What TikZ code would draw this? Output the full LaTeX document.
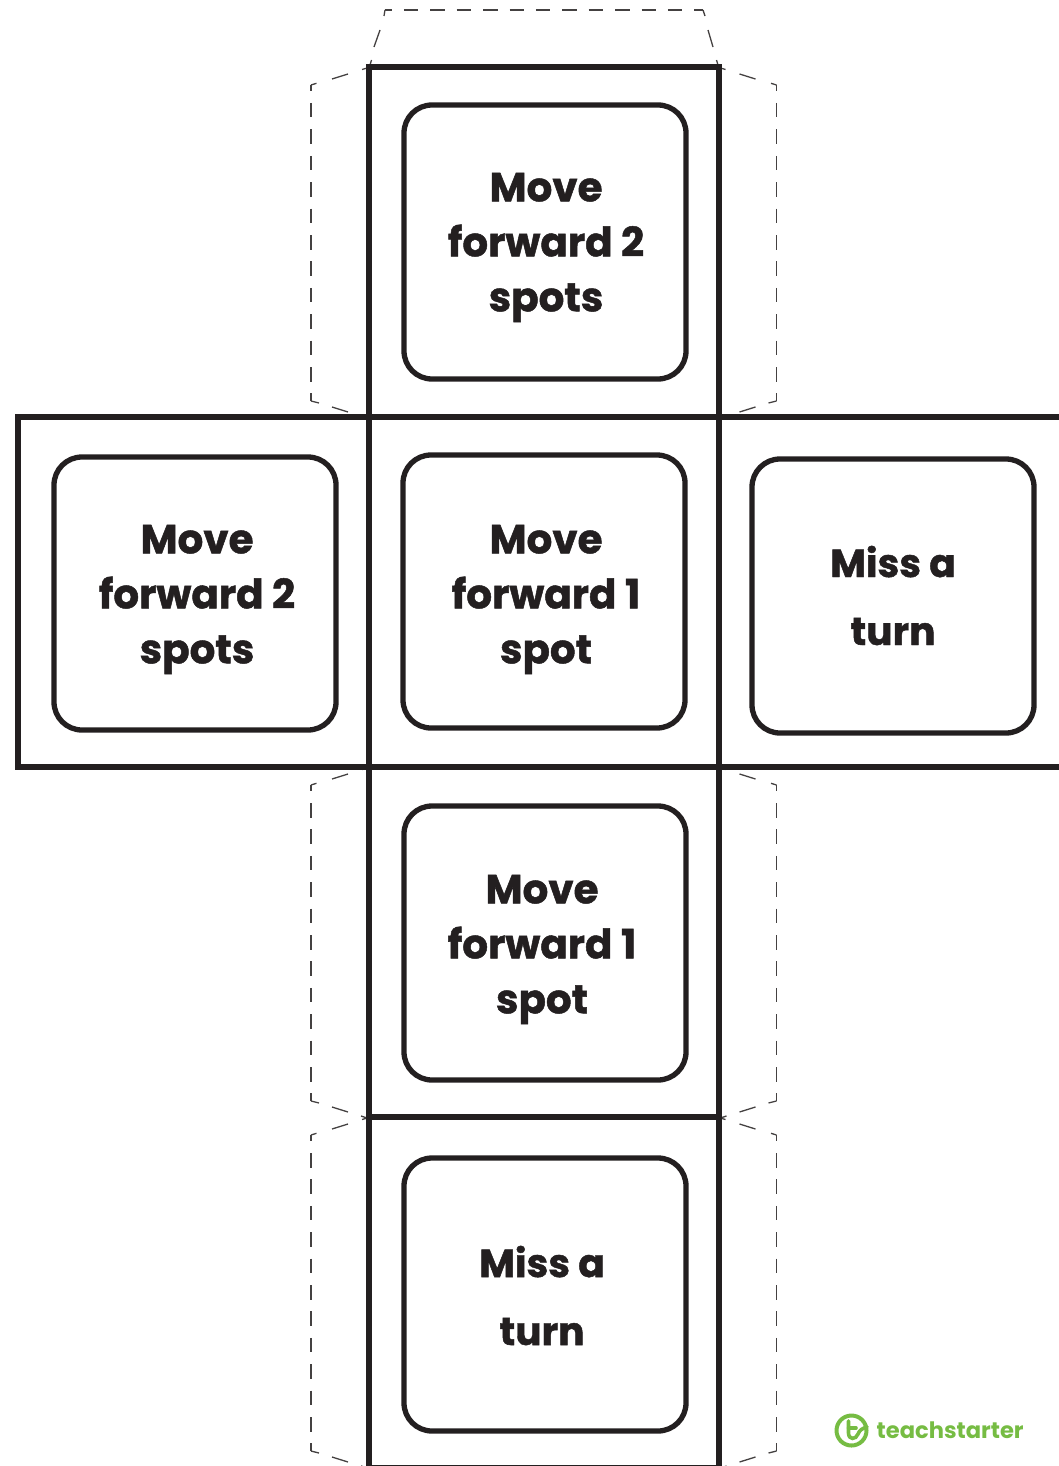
\documentclass[tikz,border=0pt]{standalone}
\usepackage{fontspec}
\setmainfont{Poppins}[BoldFont={* Bold},BoldFeatures={FakeBold=1.2}]
\newfontfamily\brandfont{Poppins Bold}
\definecolor{ink}{HTML}{231F20}
\definecolor{tsgreen}{HTML}{76BC43}
\tikzset{
  foldline/.style={draw=ink,line width=5.3pt,line cap=rect},
  flapline/.style={draw=ink!85,line width=1.3pt},
  flapdash/.style={flapline,dash pattern=on 14.5pt off 11.9pt},
  facebox/.style={draw=ink,line width=5.3pt,rounded corners=28pt,fill=white},
  movetext/.style={text=ink,align=center,inner sep=0pt,font=\fontsize{40.4}{55}\selectfont\bfseries},
  misstext/.style={text=ink,align=center,inner sep=0pt,font=\fontsize{39}{68}\selectfont\bfseries},
  sideflap/.pic={
    \draw[flapdash,dash phase=8.4pt] (0,0) -- (0,316);
    \draw[flapline] (5.5,-1.7) -- (0,0);
    \draw[flapline] (21,-6) -- (37,-11);
    \draw[flapline] (51,-15.5) -- (58,-17.5);
    \draw[flapline] (0,316) -- (8,318);
    \draw[flapline] (21,322) -- (37,327);
    \draw[flapline] (50,331) -- (56,333);
  }
}
\begin{document}
\begin{tikzpicture}[x=1pt,y=-1pt]
\useasboundingbox (0,0) rectangle (1058,1466);
% top flap
\draw[flapdash,dash phase=7.5pt] (385,10) -- (703,10);
\draw[flapline] (384,16) -- (385,10);
\draw[flapline] (705,16) -- (703,10);
\draw[flapline] (374,47) -- (380,30);
\draw[flapline] (713,47) -- (708,30);
\draw[flapline] (370,65) -- (371.5,60);
\draw[flapline] (718,65) -- (716.5,60);
% side flaps
\foreach \rowy in {85,785,1135}{
  \pic at (311,\rowy) {sideflap};
  \pic[xscale=-1] at (776.5,\rowy) {sideflap};
}
% net
\draw[foldline] (369,1466) -- (369,67) -- (719,67) -- (719,1466);
\draw[foldline] (1062,417) -- (18,417) -- (18,767) -- (1062,767);
\draw[foldline] (369,1117) -- (719,1117);
\draw[draw=ink,line width=1.5pt] (369,1466) -- (719,1466);
% faces
\draw[facebox] (404,105) rectangle (686,379);
\draw[facebox] (54,457) rectangle (336,730);
\draw[facebox] (403,455) rectangle (685,728);
\draw[facebox] (752,459) rectangle (1034,733);
\draw[facebox] (404,806) rectangle (686,1080);
\draw[facebox] (404,1158) rectangle (686,1431);
\node[movetext] (t1) at (546,247.5) {Move\\forward 2\\spots};
\node[movetext] (t2) at (197,599.5) {Move\\forward 2\\spots};
\node[movetext] (t3) at (546,599.5) {Move\\forward 1\\spot};
\node[misstext] (t4) at (893,595.5) {Miss a\\turn};
\node[movetext] (t5) at (542,949.5) {Move\\forward 1\\spot};
\node[misstext] (t6) at (542,1295.5) {Miss a\\turn};
% logo
\node[draw=tsgreen,line width=4pt,circle,minimum size=30pt,inner sep=0pt] (logo) at (851.5,1430.5) {};
\draw[tsgreen,line width=3.6pt,line cap=round] (848.5,1421) -- (848.5,1433) .. controls (848.5,1440) and (856,1440) .. (858,1434) .. controls (859.5,1430) and (863,1428) .. (867,1427);
\draw[tsgreen,line width=3.6pt,line cap=round] (848.5,1428) -- (856,1428);
\node[text=tsgreen,inner sep=0pt,anchor=west,font=\brandfont\fontsize{22.6}{23}\selectfont] (brand) at (876.5,1430) {teachstarter};
\end{tikzpicture}
\end{document}
